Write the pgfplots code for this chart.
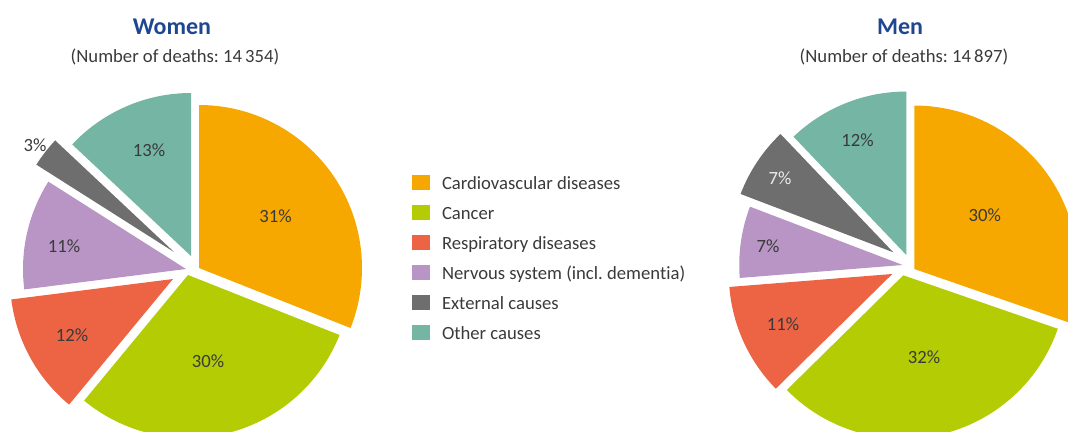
\documentclass[border=0pt]{standalone}
\usepackage{pgfplots}
\pgfplotsset{compat=1.18}
\usepackage{fontspec}
\setmainfont{Carlito}[Ligatures={NoCommon,NoRare}]
\frenchspacing
\definecolor{cvd}{HTML}{F6A800}
\definecolor{cancer}{HTML}{B4CC04}
\definecolor{resp}{HTML}{EC6444}
\definecolor{nerv}{HTML}{B995C5}
\definecolor{ext}{HTML}{6E6E6E}
\definecolor{other}{HTML}{74B5A4}
\definecolor{titleblue}{HTML}{1F4690}
\definecolor{txt}{HTML}{3A3A3A}
% \slice{vertex x}{vertex y}{cum. start}{cum. end}{total}{radius}{colour}
\newcommand\slice[7]{%
  \fill[#7] (axis cs:#1,#2) -- ++({90-#3/#5*360}:#6)
    arc[start angle={90-#3/#5*360}, end angle={90-#4/#5*360}, radius=#6] -- cycle;}
\newcommand\lab[3]{\node[font=\fontsize{14}{16}\selectfont, text=#3, inner sep=0pt] at (axis cs:#1) {#2};}
\pgfplotsset{legsq/.style={legend image code/.code={\fill[#1,draw=none] (0pt,-0.4pt) rectangle (13.5pt,10.9pt); \path[draw=none,fill=none] (0pt,0pt) -- (22.5pt,0pt);}}}
\begin{document}
\begin{tikzpicture}
\path[use as bounding box] (0,0) rectangle (801pt,324pt);
\clip (0,0) rectangle (801pt,324pt);
\begin{axis}[
  at={(0,0)}, anchor=south west,
  width=801pt, height=324pt, scale only axis,
  xmin=0, xmax=1068, ymin=0, ymax=432, y dir=reverse,
  hide axis, clip=false,
  legend style={at={(axis cs:412,174.5)}, anchor=north west, draw=none, fill=none,
    inner sep=0pt, outer sep=0pt, row sep=8.4pt, column sep=0pt,
    font=\fontsize{14}{16}\selectfont, text=txt,
    cells={anchor=base west},
    nodes={inner sep=0pt, text height=10.9pt, text depth=3.2pt}},
]
\addlegendimage{legsq=cvd}
\addlegendentry{Cardiovascular diseases}
\addlegendimage{legsq=cancer}
\addlegendentry{Cancer}
\addlegendimage{legsq=resp}
\addlegendentry{Respiratory diseases}
\addlegendimage{legsq=nerv}
\addlegendentry{Nervous system (incl. dementia)}
\addlegendimage{legsq=ext}
\addlegendentry{External causes}
\addlegendimage{legsq=other}
\addlegendentry{Other causes}

% ---- Women (shares in %) ----
\slice{199}{268}{0}{31}{100}{122.25pt}{cvd}
\slice{188}{275}{31}{61}{100}{122.25pt}{cancer}
\slice{173}{279}{61}{73}{100}{122.25pt}{resp}
\slice{186}{269}{73}{84}{100}{122.25pt}{nerv}
\slice{174}{252}{84}{87}{100}{122.25pt}{ext}
\slice{191}{256}{87}{100}{100}{122.25pt}{other}
% ---- Men (shares in %, rounded values sum to 99) ----
\slice{914.3}{269}{0}{30}{99}{122.6pt}{cvd}
\slice{903.3}{275.3}{30}{62}{99}{122.6pt}{cancer}
\slice{892.3}{274}{62}{73}{99}{122.6pt}{resp}
\slice{902.7}{265}{73}{80}{99}{122.6pt}{nerv}
\slice{893.3}{252.3}{80}{87}{99}{122.6pt}{ext}
\slice{906.3}{255}{87}{99}{99}{122.6pt}{other}

% labels
\lab{275.5,216}{31\%}{txt}
\lab{208,361}{30\%}{txt}
\lab{72,335.5}{12\%}{txt}
\lab{64,246}{11\%}{txt}
\lab{35,145.5}{3\%}{txt}
\lab{149,150.5}{13\%}{txt}
\lab{984.7,215.5}{30\%}{txt}
\lab{924,357}{32\%}{txt}
\lab{783,324}{11\%}{txt}
\lab{768,246}{7\%}{txt}
\lab{780,178}{7\%}{white!92!black}
\lab{857.5,140}{12\%}{txt}

% titles
\node[anchor=base, font=\bfseries\fontsize{18}{20}\selectfont, text=titleblue, inner sep=0pt] at (axis cs:172,34.3) {Women};
\node[anchor=base, font=\fontsize{14}{16}\selectfont, text=txt, inner sep=0pt] at (axis cs:175,62.7) {(Number of deaths: 14\,354)};
\node[anchor=base, font=\bfseries\fontsize{18}{20}\selectfont, text=titleblue, inner sep=0pt] at (axis cs:900,34.3) {Men};
\node[anchor=base, font=\fontsize{14}{16}\selectfont, text=txt, inner sep=0pt] at (axis cs:904,62.7) {(Number of deaths: 14\,897)};
\end{axis}
\end{tikzpicture}
\end{document}
